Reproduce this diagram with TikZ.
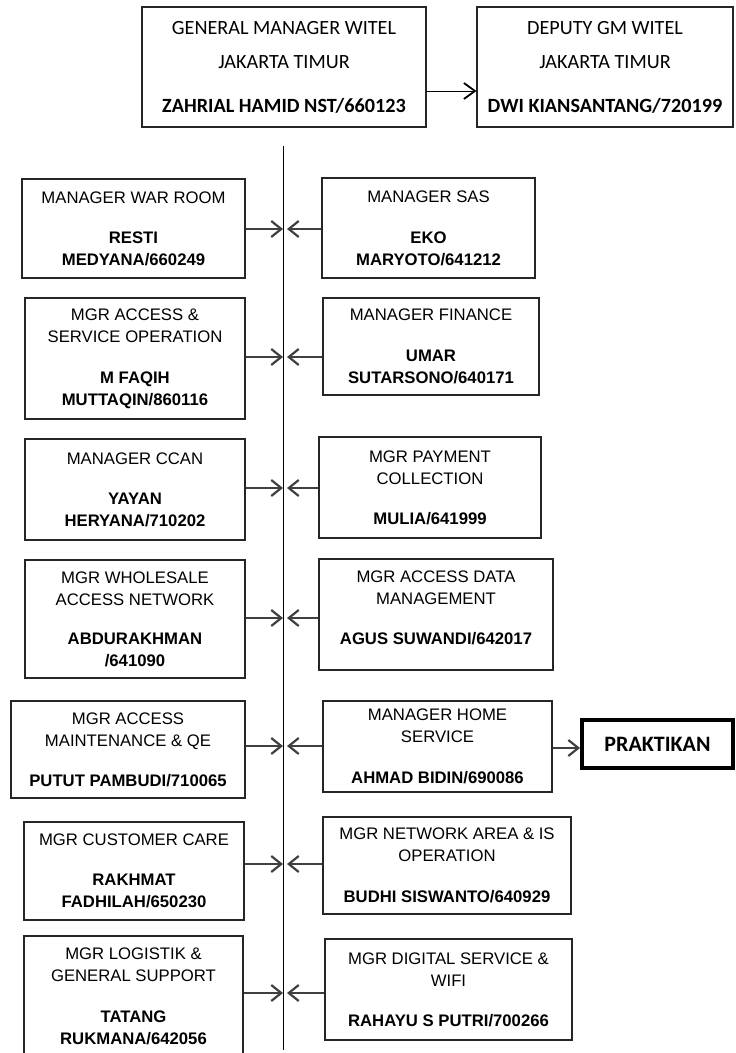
\documentclass[tikz,border=0pt]{standalone}
\usepackage{fontspec}
\newfontfamily\arialf{Liberation Sans}
\newfontfamily\calib{Carlito}
\usetikzlibrary{arrows.meta}
\begin{document}
\begin{tikzpicture}[x=1pt,y=-1pt,
  orgbox/.style={draw=black!85, line width=1.1pt, inner sep=0pt, align=center,
    font=\arialf\fontsize{16.7}{22}\selectfont},
  topbox/.style={draw=black!85, line width=1.1pt, inner sep=0pt, align=center,
    font=\calib\fontsize{20.2}{34}\selectfont},
  conn/.style={line width=1.8pt, draw=black!75,
    -{Straight Barb[length=10pt,width=16pt,line width=2.2pt]}},
  thinconn/.style={line width=0.9pt, draw=black,
    -{Straight Barb[length=11pt,width=16pt,line width=1.8pt]}},
  spine/.style={line width=0.9pt, draw=black}]
\useasboundingbox (0,0) rectangle (736,1053);

% top boxes
\node[topbox, minimum width=284pt, minimum height=120pt] (gm) at (284,67)
  {GENERAL MANAGER WITEL\\JAKARTA TIMUR\\[10pt]\textbf{ZAHRIAL HAMID NST/660123}};
\node[topbox, minimum width=256pt, minimum height=120pt] (dep) at (605,67)
  {DEPUTY GM WITEL\\JAKARTA TIMUR\\[10pt]\textbf{DWI KIANSANTANG/720199}};
\coordinate (gmout) at (426,91);
\draw[thinconn] (gmout) -- (dep.west |- gmout);

% spine
\coordinate (vtop) at (283,146);
\coordinate (vbot) at (283,1050);
\draw[spine] (vtop) -- (vbot);

% left boxes
\node[orgbox, minimum width=223pt, minimum height=99pt] (L1) at (133.5,228.5)
  {MANAGER WAR ROOM\\[18pt]\textbf{RESTI}\\\textbf{MEDYANA/660249}};
\node[orgbox, minimum width=220pt, minimum height=121pt] (L2) at (135,358.5)
  {MGR ACCESS \&\\SERVICE OPERATION\\[19pt]\textbf{M FAQIH}\\\textbf{MUTTAQIN/860116}};
\node[orgbox, minimum width=220pt, minimum height=101pt] (L3) at (135,489.5)
  {MANAGER CCAN\\[18pt]\textbf{YAYAN}\\\textbf{HERYANA/710202}};
\node[orgbox, minimum width=220pt, minimum height=118pt] (L4) at (135,619)
  {MGR WHOLESALE\\ACCESS NETWORK\\[17pt]\textbf{ABDURAKHMAN}\\\textbf{/641090}};
\node[orgbox, minimum width=234pt, minimum height=97pt] (L5) at (128,749.5)
  {MGR ACCESS\\MAINTENANCE \& QE\\[18pt]\textbf{PUTUT PAMBUDI/710065}};
\node[orgbox, minimum width=220pt, minimum height=98pt] (L6) at (134,871)
  {MGR CUSTOMER CARE\\[18pt]\textbf{RAKHMAT}\\\textbf{FADHILAH/650230}};
\node[orgbox, minimum width=219pt, minimum height=120pt] (L7) at (133.5,996)
  {MGR LOGISTIK \&\\GENERAL SUPPORT\\[19pt]\textbf{TATANG}\\\textbf{RUKMANA/642056}};

% right boxes
\node[orgbox, minimum width=213pt, minimum height=100pt] (R1) at (428.5,228)
  {MANAGER SAS\\[19pt]\textbf{EKO}\\\textbf{MARYOTO/641212}};
\node[orgbox, minimum width=216pt, minimum height=97pt] (R2) at (431,346.5)
  {MANAGER FINANCE\\[19pt]\textbf{UMAR}\\\textbf{SUTARSONO/640171}};
\node[orgbox, minimum width=222pt, minimum height=101pt] (R3) at (430,487.5)
  {MGR PAYMENT\\COLLECTION\\[18pt]\textbf{MULIA/641999}};
\node[orgbox, minimum width=234pt, minimum height=111pt] (R4) at (436,614.5)
  {MGR ACCESS DATA\\MANAGEMENT\\[18pt]\textbf{AGUS SUWANDI/642017}\\[-8pt]\mbox{}};
\node[orgbox, minimum width=229pt, minimum height=91pt] (R5) at (437.5,746.5)
  {MANAGER HOME\\SERVICE\\[19pt]\textbf{AHMAD BIDIN/690086}};
\node[orgbox, minimum width=248pt, minimum height=97pt] (R6) at (447,865.5)
  {MGR NETWORK AREA \& IS\\OPERATION\\[19pt]\textbf{BUDHI SISWANTO/640929}};
\node[orgbox, minimum width=247pt, minimum height=101pt] (R7) at (448.5,989.5)
  {MGR DIGITAL SERVICE \&\\WIFI\\[18pt]\textbf{RAHAYU S PUTRI/700266}};

% praktikan
\node[draw=black, line width=3.8pt, inner sep=0pt, minimum width=151pt, minimum height=48pt,
  font=\calib\bfseries\fontsize{22}{26}\selectfont] (P) at (657.5,744) {PRAKTIKAN};
\coordinate (pk) at (560,748);
\draw[conn] (R5.east |- pk) -- (P.west |- pk);

% junctions on the spine
\foreach \i/\y in {1/229,2/357,3/488,4/618,5/746,6/864,7/993}{
  \coordinate (jl\i) at (283,\y);
  \coordinate (jr\i) at (287,\y);
}
\foreach \i in {1,...,7}{
  \draw[conn] (L\i.east |- jl\i) -- (jl\i);
  \draw[conn] (R\i.west |- jr\i) -- (jr\i);
}
\end{tikzpicture}
\end{document}
